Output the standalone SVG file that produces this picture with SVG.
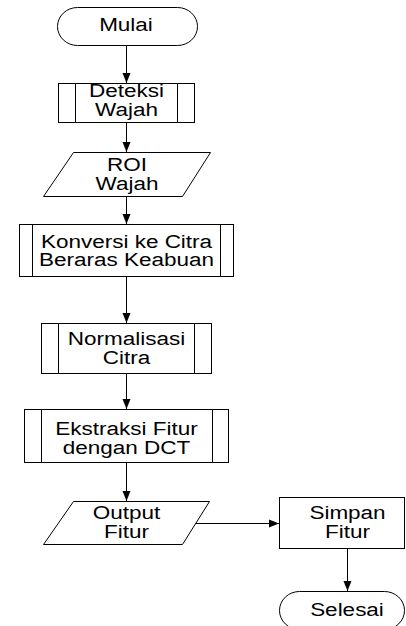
<svg xmlns="http://www.w3.org/2000/svg" width="406" height="626" viewBox="0 0 406 626">
<style>
.s{fill:#fff;stroke:#000;stroke-width:1}
.l{fill:none;stroke:#000;stroke-width:1}
.c{fill:none;stroke:#000;stroke-width:1;marker-end:url(#ah)}
.t{font-family:"Liberation Sans",Arial,sans-serif;font-size:18px;text-anchor:middle;fill:#000}
</style>
<defs>
<marker id="ah" markerWidth="10" markerHeight="10" viewBox="0 0 10 10" refX="10" refY="5" orient="auto" markerUnits="userSpaceOnUse">
<path d="M0,1 L10,5 L0,9 Z" fill="#000"/>
</marker>
</defs>
<rect width="406" height="626" fill="#fff"/>
<g id="connectors">
<line class="c" x1="126.5" y1="45" x2="126.5" y2="83"/>
<line class="c" x1="126.5" y1="122" x2="126.5" y2="152"/>
<line class="c" x1="126.5" y1="196" x2="126.5" y2="224"/>
<line class="c" x1="126.5" y1="276" x2="126.5" y2="323"/>
<line class="c" x1="126.5" y1="373" x2="126.5" y2="409"/>
<line class="c" x1="126.5" y1="462" x2="126.5" y2="501"/>
<line class="c" x1="195" y1="523.5" x2="279" y2="523.5"/>
<line class="c" x1="347.5" y1="548" x2="347.5" y2="591"/>
</g>
<g id="mulai">
<rect class="s" x="57.5" y="7.5" width="140" height="38" rx="20" ry="19"/>
<text class="t" transform="translate(126,31) scale(1.25,1)">Mulai</text>
</g>
<g id="deteksi">
<rect class="s" x="58.5" y="83.5" width="136" height="39"/>
<line class="l" x1="75.5" y1="83.5" x2="75.5" y2="122.5"/>
<line class="l" x1="177.5" y1="83.5" x2="177.5" y2="122.5"/>
<text class="t" transform="translate(126.5,97) scale(1.25,1)">Deteksi</text>
<text class="t" transform="translate(126.5,115.5) scale(1.25,1)">Wajah</text>
</g>
<g id="roi">
<polygon class="s" points="73.5,152.5 210.5,152.5 182.5,196.5 43.5,196.5"/>
<text class="t" transform="translate(127,171) scale(1.25,1)">ROI</text>
<text class="t" transform="translate(127,189.5) scale(1.25,1)">Wajah</text>
</g>
<g id="konversi">
<rect class="s" x="19.5" y="224.5" width="214" height="52"/>
<line class="l" x1="32.5" y1="224.5" x2="32.5" y2="276.5"/>
<line class="l" x1="220.5" y1="224.5" x2="220.5" y2="276.5"/>
<text class="t" transform="translate(126.5,247.5) scale(1.25,1)">Konversi ke Citra</text>
<text class="t" transform="translate(126.5,266) scale(1.25,1)">Beraras Keabuan</text>
</g>
<g id="normalisasi">
<rect class="s" x="41.5" y="323.5" width="170" height="50"/>
<line class="l" x1="58.5" y1="323.5" x2="58.5" y2="373.5"/>
<line class="l" x1="194.5" y1="323.5" x2="194.5" y2="373.5"/>
<text class="t" transform="translate(126.5,345) scale(1.25,1)">Normalisasi</text>
<text class="t" transform="translate(126.5,363.5) scale(1.25,1)">Citra</text>
</g>
<g id="ekstraksi">
<rect class="s" x="24.5" y="409.5" width="204" height="53"/>
<line class="l" x1="41.5" y1="409.5" x2="41.5" y2="462.5"/>
<line class="l" x1="212.5" y1="409.5" x2="212.5" y2="462.5"/>
<text class="t" transform="translate(126.5,435) scale(1.25,1)">Ekstraksi Fitur</text>
<text class="t" transform="translate(126.5,453.5) scale(1.25,1)">dengan DCT</text>
</g>
<g id="output">
<polygon class="s" points="73.5,501.5 209.5,501.5 182.5,544.5 43.5,544.5"/>
<text class="t" transform="translate(126.5,519) scale(1.25,1)">Output</text>
<text class="t" transform="translate(126.5,537.5) scale(1.25,1)">Fitur</text>
</g>
<g id="simpan">
<rect class="s" x="279.5" y="497.5" width="125" height="51"/>
<text class="t" transform="translate(347.5,518.5) scale(1.25,1)">Simpan</text>
<text class="t" transform="translate(347.5,537.5) scale(1.25,1)">Fitur</text>
</g>
<g id="selesai">
<rect class="s" x="279.5" y="591.5" width="125" height="38" rx="20" ry="19"/>
<text class="t" transform="translate(347,616) scale(1.25,1)">Selesai</text>
</g>
</svg>
